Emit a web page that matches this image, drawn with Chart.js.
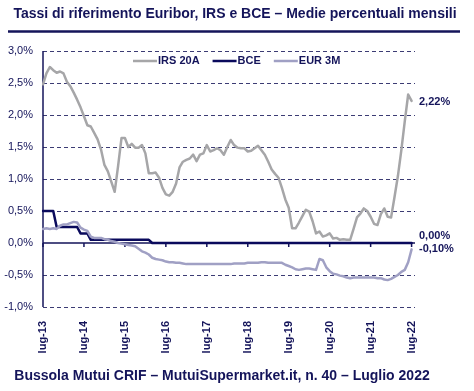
<!DOCTYPE html>
<html>
<head>
<meta charset="utf-8">
<style>
  html, body { margin: 0; padding: 0; background: #fff; }
  #wrap { width: 474px; height: 391px; position: relative; }
</style>
</head>
<body>
<div id="wrap"><canvas id="chart"></canvas></div>
<script src="https://cdn.jsdelivr.net/npm/chart.js@4/dist/chart.umd.min.js"></script>
<script>
// Mesi da lug-13 a lug-22
const MESI = ['lug', 'ago', 'set', 'ott', 'nov', 'dic', 'gen', 'feb', 'mar', 'apr', 'mag', 'giu'];
const ANNO_INIZIO = 13;
const N_MESI = 109;

const irs20 = [
    2.48, 2.65, 2.75, 2.70, 2.66, 2.68, 2.65, 2.52, 2.45, 2.35, 2.24, 2.12,
    1.98, 1.84, 1.82, 1.72, 1.62, 1.46, 1.22, 1.12, 0.96, 0.80, 1.20, 1.64,
    1.64, 1.50, 1.55, 1.49, 1.49, 1.53, 1.40, 1.09, 1.09, 1.10, 1.02, 0.86,
    0.76, 0.74, 0.80, 0.93, 1.18, 1.27, 1.30, 1.32, 1.38, 1.28, 1.38, 1.40,
    1.53, 1.43, 1.45, 1.48, 1.45, 1.38, 1.50, 1.61, 1.53, 1.49, 1.48, 1.48,
    1.43, 1.44, 1.48, 1.52, 1.45, 1.38, 1.27, 1.15, 1.08, 1.02, 0.86, 0.68,
    0.55, 0.23, 0.23, 0.32, 0.42, 0.52, 0.49, 0.34, 0.15, 0.18, 0.10, 0.12,
    0.15, 0.07, 0.08, 0.05, 0.06, 0.05, 0.05, 0.22, 0.40, 0.46, 0.54, 0.50,
    0.41, 0.30, 0.28, 0.45, 0.54, 0.41, 0.40, 0.72, 1.05, 1.45, 1.90, 2.32,
    2.22
];

const bce = [
    0.50, 0.50, 0.50, 0.50, 0.25, 0.25, 0.25, 0.25, 0.25, 0.25, 0.25, 0.15,
    0.15, 0.15, 0.05, 0.05, 0.05, 0.05, 0.05, 0.05, 0.05, 0.05, 0.05, 0.05,
    0.05, 0.05, 0.05, 0.05, 0.05, 0.05, 0.05, 0.05, 0.00, 0.00, 0.00, 0.00,
    0.00, 0.00, 0.00, 0.00, 0.00, 0.00, 0.00, 0.00, 0.00, 0.00, 0.00, 0.00,
    0.00, 0.00, 0.00, 0.00, 0.00, 0.00, 0.00, 0.00, 0.00, 0.00, 0.00, 0.00,
    0.00, 0.00, 0.00, 0.00, 0.00, 0.00, 0.00, 0.00, 0.00, 0.00, 0.00, 0.00,
    0.00, 0.00, 0.00, 0.00, 0.00, 0.00, 0.00, 0.00, 0.00, 0.00, 0.00, 0.00,
    0.00, 0.00, 0.00, 0.00, 0.00, 0.00, 0.00, 0.00, 0.00, 0.00, 0.00, 0.00,
    0.00, 0.00, 0.00, 0.00, 0.00, 0.00, 0.00, 0.00, 0.00, 0.00, 0.00, 0.00,
    0.00
];

const eur3m = [
    0.22, 0.23, 0.22, 0.23, 0.22, 0.27, 0.29, 0.29, 0.31, 0.33, 0.32, 0.24,
    0.21, 0.19, 0.10, 0.08, 0.08, 0.08, 0.06, 0.05, 0.03, 0.02, 0.00, -0.01,
    -0.02, -0.03, -0.04, -0.05, -0.09, -0.13, -0.15, -0.18, -0.23, -0.25, -0.26, -0.27,
    -0.29, -0.30, -0.30, -0.31, -0.31, -0.32, -0.33, -0.33, -0.33, -0.33, -0.33, -0.33,
    -0.33, -0.33, -0.33, -0.33, -0.33, -0.33, -0.33, -0.33, -0.32, -0.32, -0.32, -0.32,
    -0.31, -0.31, -0.31, -0.31, -0.30, -0.30, -0.31, -0.31, -0.31, -0.31, -0.31, -0.34,
    -0.36, -0.38, -0.41, -0.42, -0.41, -0.40, -0.40, -0.41, -0.42, -0.25, -0.27, -0.38,
    -0.44, -0.48, -0.49, -0.51, -0.52, -0.54, -0.55, -0.54, -0.54, -0.54, -0.54, -0.54,
    -0.54, -0.54, -0.55, -0.55, -0.57, -0.58, -0.56, -0.53, -0.50, -0.45, -0.42, -0.30,
    -0.10
];

const yTicks = [-1.0, -0.5, 0.0, 0.5, 1.0, 1.5, 2.0, 2.5, 3.0];
const ultimiValori = [
    { testo: '2,22%', valore: 2.22, dy: 1 },
    { testo: '0,00%', valore: 0.00, dy: -7 },
    { testo: '-0,10%', valore: -0.10, dy: 0 }
];

const TITOLO = 'Tassi di riferimento Euribor, IRS e BCE \u2013 Medie percentuali mensili';
const FONTE = 'Bussola Mutui CRIF \u2013 MutuiSupermarket.it, n. 40 \u2013 Luglio 2022';

// Colori
const COLORS = {
    navy: '#14145a',
    grid: '#3c3c74',
    irs: '#a6a6a8',
    bce: '#0a0a5c',
    eur: '#a0a0c4'
};

const FONT = "'Liberation Sans', Arial, sans-serif";

// etichette mensili (+ una vuota per lasciare spazio a destra)
const labels = [];
for (let i = 0; i < N_MESI; i++) {
    const anno = ANNO_INIZIO + Math.floor((i + 6) / 12);
    labels.push(MESI[i % 12] + '-' + anno);
}
labels.push('');

function fmt(v, dec) {
    return v.toFixed(dec).replace('.', ',') + '%';
}

// griglia tratteggiata, titolo, linea, fonte, legenda, asse dello zero, valori finali
const decorazioni = {
    id: 'decorazioni',
    beforeDatasetsDraw(chart) {
        const { ctx, chartArea, scales } = chart;
        ctx.save();

        // griglia orizzontale tratteggiata
        ctx.strokeStyle = COLORS.grid;
        ctx.lineWidth = 1;
        ctx.setLineDash([4, 3]);
        ctx.beginPath();
        yTicks.forEach(v => {
            if (v === 0) return;
            const y = Math.round(scales.y.getPixelForValue(v)) + 0.5;
            ctx.moveTo(chartArea.left, y);
            ctx.lineTo(chartArea.right, y);
        });
        ctx.stroke();
        ctx.setLineDash([]);

        // asse dello zero con tacche annuali
        const y0 = scales.y.getPixelForValue(0);
        ctx.strokeStyle = COLORS.navy;
        ctx.lineWidth = 1.5;
        ctx.beginPath();
        ctx.moveTo(chartArea.left, y0);
        ctx.lineTo(chartArea.right, y0);
        for (let i = 0; i < N_MESI; i += 12) {
            const x = scales.x.getPixelForValue(i);
            ctx.moveTo(x, y0);
            ctx.lineTo(x, y0 + 4);
        }
        ctx.stroke();

        // asse verticale
        ctx.lineWidth = 1.5;
        ctx.beginPath();
        ctx.moveTo(chartArea.left, chartArea.top);
        ctx.lineTo(chartArea.left, chartArea.bottom);
        ctx.stroke();
        ctx.restore();
    },
    afterDraw(chart) {
        const { ctx, chartArea, scales } = chart;
        ctx.save();
        ctx.fillStyle = COLORS.navy;
        ctx.textBaseline = 'middle';

        ctx.font = 'bold 14px ' + FONT;
        ctx.textAlign = 'center';
        ctx.fillText(TITOLO, 235, 14);
        ctx.fillText(FONTE, 222, 376);

        ctx.strokeStyle = COLORS.navy;
        ctx.lineWidth = 2.5;
        ctx.beginPath();
        ctx.moveTo(8, 31.5);
        ctx.lineTo(460, 31.5);
        ctx.stroke();

        // legenda
        ctx.font = 'bold 11px ' + FONT;
        ctx.textAlign = 'left';
        let x = 133;
        const yl = 61;
        chart.data.datasets.forEach(ds => {
            ctx.strokeStyle = ds.borderColor;
            ctx.lineWidth = 2.5;
            ctx.beginPath();
            ctx.moveTo(x, yl);
            ctx.lineTo(x + 24, yl);
            ctx.stroke();
            ctx.fillText(ds.label, x + 25, yl);
            x += 25 + ctx.measureText(ds.label).width + 13;
        });

        // valori finali
        ultimiValori.forEach(u => {
            ctx.fillText(u.testo, chartArea.right + 4, scales.y.getPixelForValue(u.valore) + u.dy);
        });
        ctx.restore();
    }
};

new Chart(document.getElementById('chart'), {
    type: 'line',
    data: {
        labels: labels,
        datasets: [
            { label: 'IRS 20A', data: irs20, borderColor: COLORS.irs, order: 2 },
            { label: 'BCE', data: bce, borderColor: COLORS.bce, order: 3 },
            { label: 'EUR 3M', data: eur3m, borderColor: COLORS.eur, order: 1 }
        ]
    },
    options: {
        responsive: true,
        maintainAspectRatio: false,
        animation: false,
        devicePixelRatio: 1,
        layout: { padding: { top: 51, right: 59, left: 0, bottom: 0 } },
        elements: {
            point: { radius: 0 },
            line: { borderWidth: 2.5, tension: 0, borderJoinStyle: 'round', borderCapStyle: 'round' }
        },
        plugins: {
            legend: { display: false },
            title: { display: false },
            tooltip: { enabled: false }
        },
        scales: {
            x: {
                offset: false,
                afterFit(scale) { scale.height = 84; },
                grid: { display: false },
                border: { display: false },
                ticks: {
                    autoSkip: false,
                    maxRotation: 90,
                    minRotation: 90,
                    padding: 6,
                    color: COLORS.navy,
                    font: { family: FONT, size: 11, weight: 'bold' },
                    callback(val, i) { return i % 12 === 0 ? labels[i] : ''; }
                }
            },
            y: {
                min: -1,
                max: 3,
                afterFit(scale) { scale.width = 43; },
                afterBuildTicks(scale) { scale.ticks = yTicks.map(v => ({ value: v })); },
                grid: { display: false, drawTicks: false },
                border: { display: false },
                ticks: {
                    padding: 10,
                    color: COLORS.navy,
                    font: { family: FONT, size: 11 },
                    callback: v => fmt(v, 1)
                }
            }
        }
    },
    plugins: [decorazioni]
});
</script>
</body>
</html>
